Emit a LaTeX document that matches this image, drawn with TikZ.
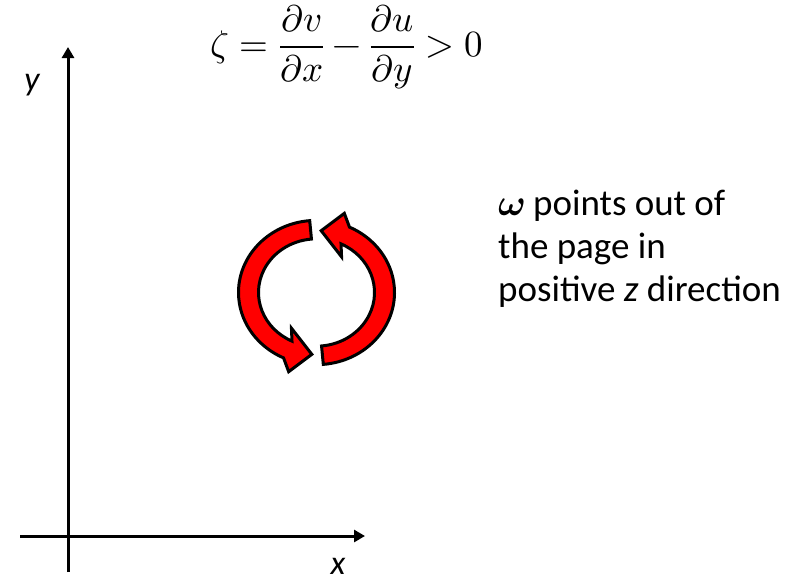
\documentclass[tikz,border=0pt]{standalone}
\usepackage{unicode-math}
\setmainfont{Carlito}
\setmathfont{Latin Modern Math}
\usetikzlibrary{arrows.meta}

\begin{document}
\begin{tikzpicture}[
  x=1pt, y=-1pt,
  axis/.style={line width=3pt, -{Triangle[length=11pt, width=12pt]}},
  axlabel/.style={font=\fontsize{34}{40}\selectfont\itshape},
  note/.style={font=\fontsize{37}{43}\selectfont, align=left, inner sep=0pt},
  eqn/.style={font=\fontsize{37}{44}\selectfont, inner sep=0pt},
  turn/.style={draw=black, line width=3pt, fill=red, line join=miter}
]
\useasboundingbox (0,0) rectangle (799,582);

\coordinate (ybot) at (68,572);
\coordinate (ytop) at (68,47);
\coordinate (xleft) at (20,536);
\coordinate (xright) at (365,536);

% axes
\draw[axis] (ybot) -- (ytop);
\draw[axis] (xleft) -- (xright);
\node[axlabel] (ylab) at (32,85) {y};
\node[axlabel] (xlab) at (338,566) {x};

% vorticity formula
\node[eqn] (zeta) at (347,47) {$\displaystyle \zeta = \frac{\partial v}{\partial x} - \frac{\partial u}{\partial y} > 0$};

% rotating arrows (counter-clockwise)
\begin{scope}[shift={(316.5,292.5)}, yscale=-0.925]
\foreach \rot in {0,180} {
  \draw[turn, rotate=\rot] (95:78) arc[start angle=95, end angle=245, radius=78]
    -- (252:90) -- (266:67) -- (237:46) -- (245:58)
    arc[start angle=245, end angle=95, radius=58] -- cycle;
}
\end{scope}

\node[note, anchor=north west] (omega) at (498,190) {%
$\symbfit{\omega}$ points out of\\
the page in\\
positive \textit{z} direction};

\end{tikzpicture}
\end{document}
